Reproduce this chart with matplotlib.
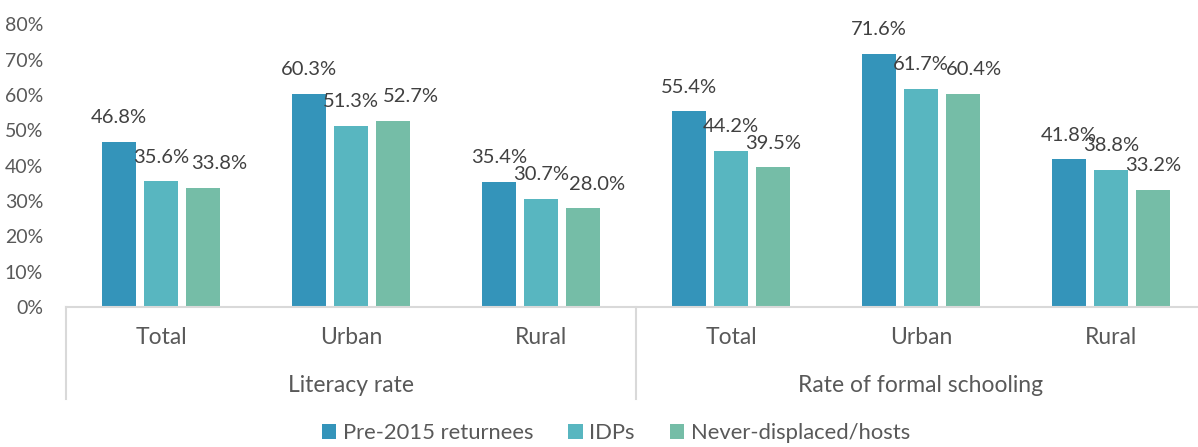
import matplotlib
matplotlib.use("Agg")
import matplotlib.pyplot as plt
import matplotlib.transforms as mtransforms
import numpy as np

plt.rcParams['font.family'] = ['Lato', 'DejaVu Sans']

# ---- data ----
groups = ["Literacy rate", "Rate of formal schooling"]
subcats = ["Total", "Urban", "Rural", "Total", "Urban", "Rural"]
series_names = ["Pre-2015 returnees", "IDPs", "Never-displaced/hosts"]
returnees = [46.8, 60.3, 35.4, 55.4, 71.6, 41.8]
idps = [35.6, 51.3, 30.7, 44.2, 61.7, 38.8]
hosts = [33.8, 52.7, 28.0, 39.5, 60.4, 33.2]
yticks = [0, 10, 20, 30, 40, 50, 60, 70, 80]

# ---- style ----
colors = ["#3494BA", "#58B6C0", "#75BDA7"]
txt_col = "#595959"
lbl_col = "#404040"
# horizontal nudges (px) of data labels that were moved to avoid overlap
nudges = [
    [0, 0, 0, 0, 0, 0],
    [0, 0, 0, 0, 0, 0],
    [16, 18, 14, 0, 11, 0],
]

W, H, DPI = 1198, 447, 100
fig = plt.figure(figsize=(W / DPI, H / DPI), dpi=DPI)
px = 72.0 / DPI  # points per pixel

left_px, right_px = 66, 1206
base_px, top_px = 307, 24.3
ax = fig.add_axes([left_px / W, (H - base_px) / H,
                   (right_px - left_px) / W, (base_px - top_px) / H])

x = np.arange(len(subcats))
width = 0.174
step = 0.221
data = [returnees, idps, hosts]
for j, (vals, c, name) in enumerate(zip(data, colors, series_names)):
    xs = x + (j - 1) * step
    bars = ax.bar(xs, vals, width=width, color=c, label=name, zorder=2)
    for k, (xx, v) in enumerate(zip(xs, vals)):
        ax.annotate(f"{v:.1f}%", xy=(xx, v), xytext=(nudges[j][k] * px, 24 * px),
                    textcoords="offset points", ha="center", va="center",
                    fontsize=14.5, color=lbl_col)

ax.set_xlim(-0.5, len(subcats) - 0.5)
ax.set_ylim(0, 80)
ax.set_yticks(yticks)
ax.set_yticklabels([f"{t}%" for t in yticks])
ax.tick_params(axis="y", length=0, pad=23 * px, labelsize=14, labelcolor=txt_col)
ax.tick_params(axis="x", length=0, bottom=False, labelbottom=False)
for s in ["top", "right", "left"]:
    ax.spines[s].set_visible(False)
ax.spines["bottom"].set_color("#D9D9D9")
ax.spines["bottom"].set_linewidth(1.5)

trans = mtransforms.blended_transform_factory(ax.transData, ax.transAxes)
for xx, lab in zip(x, subcats):
    ax.annotate(lab, xy=(xx, 0), xycoords=trans, xytext=(0, -31 * px),
                textcoords="offset points", ha="center", va="center",
                fontsize=16.5, color=txt_col)
for g, lab in enumerate(groups):
    gx = 3 * g + 1
    ax.annotate(lab, xy=(gx, 0), xycoords=trans, xytext=(0, -78 * px),
                textcoords="offset points", ha="center", va="center",
                fontsize=16.5, color=txt_col)

ax_h_px = base_px - top_px
for sx in [-0.5, 2.5, 5.5]:
    ax.plot([sx, sx], [0, -92 / ax_h_px], transform=trans, color="#D9D9D9",
            lw=1.5, clip_on=False)

handles, labels = ax.get_legend_handles_labels()
fig.legend(handles, labels, loc="center", bbox_to_anchor=(616 / W, 1 - 433 / H),
           ncol=3, frameon=False, fontsize=15.8, labelcolor=txt_col,
           handlelength=0.65, handleheight=0.65, handletextpad=0.3,
           columnspacing=1.6)

fig.savefig("out.png", dpi=DPI)
